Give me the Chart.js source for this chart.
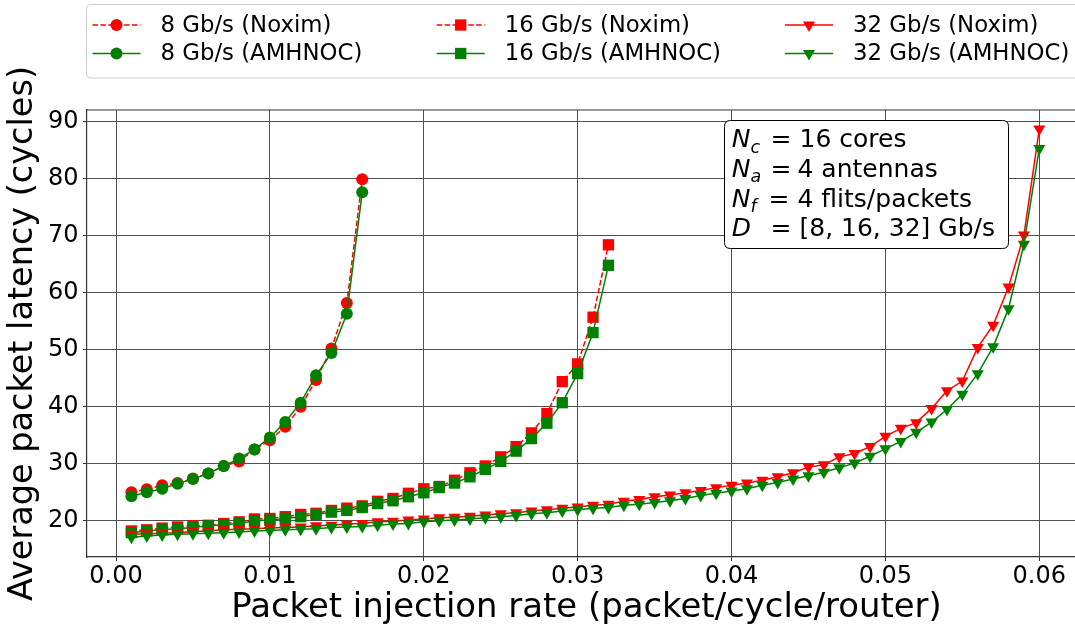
<!DOCTYPE html>
<html>
<head>
<meta charset="utf-8">
<script src="https://cdn.jsdelivr.net/npm/chart.js@4/dist/chart.umd.min.js"></script>
<style>
  html, body { margin: 0; padding: 0; background: #fff; overflow: hidden; }
  #wrap { width: 1075px; height: 630px; position: relative; }
</style>
</head>
<body>
<div id="wrap"><canvas id="latencyChart" width="1075" height="630"></canvas></div>
<script>
// injection rates (packet/cycle/router)
const rates = [
  0.001, 0.002, 0.003, 0.004, 0.005, 0.006, 0.007, 0.008, 0.009, 0.010,
  0.011, 0.012, 0.013, 0.014, 0.015, 0.016, 0.017, 0.018, 0.019, 0.020,
  0.021, 0.022, 0.023, 0.024, 0.025, 0.026, 0.027, 0.028, 0.029, 0.030,
  0.031, 0.032, 0.033, 0.034, 0.035, 0.036, 0.037, 0.038, 0.039, 0.040,
  0.041, 0.042, 0.043, 0.044, 0.045, 0.046, 0.047, 0.048, 0.049, 0.050,
  0.051, 0.052, 0.053, 0.054, 0.055, 0.056, 0.057, 0.058, 0.059, 0.060
];

// average packet latency (cycles)
const noxim8 = [25.0, 25.5, 26.2, 26.6, 27.4, 28.3, 29.6, 30.4, 32.5, 34.1, 36.5, 40.0, 44.7, 50.2, 58.2, 79.9];
const amhnoc8 = [24.3, 25.0, 25.6, 26.5, 27.3, 28.3, 29.6, 30.9, 32.5, 34.6, 37.3, 40.7, 45.5, 49.4, 56.3, 77.6];

const noxim16 = [18.2, 18.4, 18.7, 18.9, 19.1, 19.2, 19.5, 19.8, 20.3, 20.4, 20.7, 21.1, 21.3, 21.8, 22.2, 22.6,
  23.4, 23.9, 24.8, 25.6, 26.0, 27.1, 28.4, 29.6, 31.2, 33.0, 35.4, 38.8, 44.4, 47.5, 55.7, 68.4];
const amhnoc16 = [17.9, 18.2, 18.4, 18.6, 18.8, 19.1, 19.3, 19.5, 20.0, 20.1, 20.4, 20.7, 21.1, 21.5, 21.8, 22.3,
  23.0, 23.5, 24.2, 24.9, 25.8, 26.6, 27.7, 29.0, 30.4, 32.2, 34.4, 37.1, 40.7, 45.8, 53.0, 64.8];

const noxim32 = [17.6, 17.7, 17.8, 17.9, 18.1, 18.2, 18.4, 18.5, 18.6, 18.7, 18.8, 18.9, 19.1, 19.2, 19.4, 19.5,
  19.8, 19.9, 20.1, 20.3, 20.5, 20.6, 20.8, 21.0, 21.2, 21.4, 21.7, 21.9, 22.2, 22.4, 22.7, 22.9,
  23.4, 23.7, 24.2, 24.5, 24.9, 25.3, 25.8, 26.2, 26.6, 27.1, 27.7, 28.4, 29.4, 29.8, 31.2, 31.8, 33.0,
  34.8, 36.2, 37.2, 39.7, 42.8, 44.5, 50.4, 54.3, 61.0, 70.1, 88.7];
const amhnoc32 = [17.1, 17.3, 17.5, 17.6, 17.7, 17.8, 17.9, 18.0, 18.2, 18.3, 18.4, 18.5, 18.6, 18.8, 18.9, 19.0,
  19.2, 19.4, 19.5, 19.8, 20.0, 20.1, 20.3, 20.5, 20.7, 20.9, 21.2, 21.4, 21.7, 21.9, 22.2, 22.3,
  22.7, 22.9, 23.2, 23.5, 23.9, 24.4, 24.8, 25.2, 25.6, 26.2, 26.7, 27.3, 27.9, 28.5, 29.3, 30.1, 31.3,
  32.6, 33.9, 35.5, 37.3, 39.5, 42.2, 45.8, 50.5, 57.2, 68.5, 85.3];

const xTicks = [0.00, 0.01, 0.02, 0.03, 0.04, 0.05, 0.06];
const yTicks = [20, 30, 40, 50, 60, 70, 80, 90];

const FONT = '"DejaVu Sans", "Liberation Sans", sans-serif';
const RED = '#ff0000';
const GREEN = '#008000';
const GRID = '#505050';

function toPoints(values) {
  return values.map((v, i) => ({ x: rates[i], y: v }));
}

function series(label, values, color, style, dashed, order) {
  const radius = style === 'circle' ? 6 : (style === 'rect' ? 8 : 7);
  return {
    label: label,
    data: toPoints(values),
    borderColor: color,
    backgroundColor: color,
    borderWidth: 1.5,
    borderDash: dashed ? [5.5, 2.4] : [],
    pointStyle: style,
    pointRotation: style === 'triangle' ? 180 : 0,
    pointRadius: radius,
    pointBorderWidth: 0,
    pointHoverRadius: radius,
    tension: 0,
    order: order
  };
}

// plotted in the same order as the original figure, later ones on top
const datasets = [
  series('8 Gb/s (Noxim)', noxim8, RED, 'circle', true, 6),
  series('8 Gb/s (AMHNOC)', amhnoc8, GREEN, 'circle', false, 5),
  series('16 Gb/s (Noxim)', noxim16, RED, 'rect', true, 4),
  series('16 Gb/s (AMHNOC)', amhnoc16, GREEN, 'rect', false, 3),
  series('32 Gb/s (Noxim)', noxim32, RED, 'triangle', false, 2),
  series('32 Gb/s (AMHNOC)', amhnoc32, GREEN, 'triangle', false, 1)
];

function roundRect(ctx, x, y, w, h, r) {
  ctx.beginPath();
  ctx.moveTo(x + r, y);
  ctx.lineTo(x + w - r, y);
  ctx.quadraticCurveTo(x + w, y, x + w, y + r);
  ctx.lineTo(x + w, y + h - r);
  ctx.quadraticCurveTo(x + w, y + h, x + w - r, y + h);
  ctx.lineTo(x + r, y + h);
  ctx.quadraticCurveTo(x, y + h, x, y + h - r);
  ctx.lineTo(x, y + r);
  ctx.quadraticCurveTo(x, y, x + r, y);
  ctx.closePath();
}

// legend above the axes, two rows and three columns like matplotlib
const boxLegend = {
  id: 'boxLegend',
  afterDraw(chart) {
    const ctx = chart.ctx;
    ctx.save();
    roundRect(ctx, 86.5, 4.5, 1000, 73.5, 4);
    ctx.fillStyle = 'rgba(255,255,255,0.8)';
    ctx.fill();
    ctx.strokeStyle = '#cccccc';
    ctx.lineWidth = 1;
    ctx.stroke();

    const colX = [92.5, 436.7, 785];
    const rowY = [25, 53.5];
    chart.data.datasets.forEach((ds, i) => {
      const col = Math.floor(i / 2);
      const row = i % 2;
      const x0 = colX[col];
      const y = rowY[row];
      ctx.strokeStyle = ds.borderColor;
      ctx.lineWidth = ds.borderWidth;
      ctx.setLineDash(ds.borderDash);
      ctx.beginPath();
      ctx.moveTo(x0, y);
      ctx.lineTo(x0 + 48, y);
      ctx.stroke();
      ctx.setLineDash([]);
      ctx.fillStyle = ds.backgroundColor;
      Chart.helpers.drawPoint(ctx, {
        pointStyle: ds.pointStyle,
        rotation: ds.pointRotation,
        radius: ds.pointRadius,
        borderWidth: 0
      }, x0 + 24, y);
      ctx.fillStyle = '#000';
      ctx.font = '22.8px ' + FONT;
      ctx.textAlign = 'left';
      ctx.textBaseline = 'middle';
      ctx.fillText(ds.label, x0 + 68, y + 1);
    });
    ctx.restore();
  }
};

// top spine, x axis title (centred on the full axes like matplotlib) and parameter box
const paramBox = {
  id: 'paramBox',
  afterDraw(chart) {
    const ctx = chart.ctx;
    const area = chart.chartArea;
    ctx.save();
    ctx.strokeStyle = '#333';
    ctx.lineWidth = 1.2;
    ctx.beginPath();
    ctx.moveTo(area.left, area.top);
    ctx.lineTo(area.right, area.top);
    ctx.stroke();

    ctx.fillStyle = '#000';
    ctx.font = '33.9px ' + FONT;
    ctx.textAlign = 'center';
    ctx.textBaseline = 'alphabetic';
    ctx.fillText('Packet injection rate (packet/cycle/router)', 586.5, 617.3);

    roundRect(ctx, 724.5, 120.5, 284, 128, 6);
    ctx.fillStyle = '#fff';
    ctx.fill();
    ctx.strokeStyle = '#000';
    ctx.lineWidth = 1;
    ctx.stroke();

    const lines = [
      ['N', 'c', '16 cores'],
      ['N', 'a', '4 antennas'],
      ['N', 'f', '4 flits/packets'],
      ['D', '', '[8, 16, 32] Gb/s']
    ];
    const eqX = [770.5, 770.5, 768.5, 770.5];
    const restX = [799.5, 797.5, 797.5, 799.5];
    ctx.fillStyle = '#000';
    ctx.textAlign = 'left';
    lines.forEach(([sym, sub, rest], i) => {
      const base = 147 + i * 29.8;
      ctx.font = 'italic 25px ' + FONT;
      ctx.fillText(sym, 731.7, base);
      const w = ctx.measureText(sym).width;
      if (sub) {
        ctx.font = 'italic 17.5px ' + FONT;
        ctx.fillText(sub, 731.7 + w, base + 5.5);
      }
      ctx.font = '25px ' + FONT;
      ctx.fillText('=', eqX[i], base);
      ctx.fillText(rest, restX[i], base);
    });
    ctx.restore();
  }
};

const ctx = document.getElementById('latencyChart').getContext('2d');
new Chart(ctx, {
  type: 'line',
  data: { datasets: datasets },
  plugins: [boxLegend, paramBox],
  options: {
    responsive: false,
    animation: false,
    events: [],
    layout: { autoPadding: false, padding: { top: 110, right: 0, left: 0, bottom: 0 } },
    plugins: {
      legend: { display: false },
      tooltip: { enabled: false }
    },
    scales: {
      x: {
        type: 'linear',
        min: -0.001885,
        max: 0.06232,
        afterBuildTicks: s => { s.ticks = xTicks.map(v => ({ value: v })); },
        afterFit: s => { s.height = 73; s.paddingLeft = 0; s.paddingRight = 0; },
        ticks: {
          callback: v => v.toFixed(2),
          color: '#000',
          font: { family: FONT, size: 24, lineHeight: 1 },
          padding: 4,
          maxRotation: 0,
          autoSkip: false
        },
        grid: { color: GRID, lineWidth: 1, tickLength: 4, tickColor: '#333' },
        border: { color: '#333', width: 1.2 },
        title: { display: false }
      },
      y: {
        type: 'linear',
        min: 13.63,
        max: 92.05,
        afterBuildTicks: s => { s.ticks = yTicks.map(v => ({ value: v })); },
        afterFit: s => { s.width = 87; s.paddingTop = 0; s.paddingBottom = 0; },
        ticks: {
          color: '#000',
          font: { family: FONT, size: 24, lineHeight: 1 },
          padding: 4.5,
          autoSkip: false
        },
        grid: { color: GRID, lineWidth: 1, tickLength: 4, tickColor: '#333' },
        border: { color: '#333', width: 1.2 },
        title: {
          display: true,
          text: 'Average packet latency (cycles)',
          color: '#000',
          font: { family: FONT, size: 33.5, lineHeight: 1 },
          padding: { top: 7, bottom: 0 }
        }
      }
    }
  }
});
</script>
</body>
</html>
